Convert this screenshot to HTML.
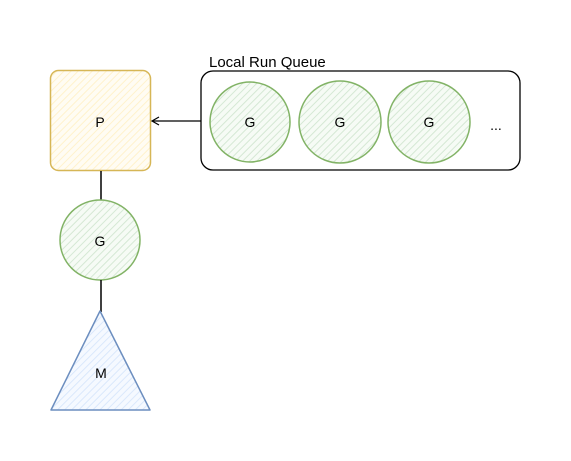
<!DOCTYPE html>
<html><head><meta charset="utf-8"><style>
html,body{margin:0;padding:0;background:#fff;}
svg{display:block;}
text{font-family:"Liberation Sans",sans-serif;font-size:14px;fill:#000;}
</style></head><body>
<svg width="571" height="461" viewBox="0 0 571 461" xmlns="http://www.w3.org/2000/svg">
<defs>
<pattern id="hy" width="5" height="5" patternUnits="userSpaceOnUse" patternTransform="rotate(45)">
<rect width="5" height="5" fill="#fffcf3"/><line x1="0" y1="0" x2="0" y2="5" stroke="#fff2cc" stroke-width="2"/></pattern>
<pattern id="hg" width="5" height="5" patternUnits="userSpaceOnUse" patternTransform="rotate(45)">
<rect width="5" height="5" fill="#f6fbf5"/><line x1="0" y1="0" x2="0" y2="5" stroke="#d5e8d4" stroke-width="2"/></pattern>
<pattern id="hb" width="5" height="5" patternUnits="userSpaceOnUse" patternTransform="rotate(45)">
<rect width="5" height="5" fill="#f5f9ff"/><line x1="0" y1="0" x2="0" y2="5" stroke="#dae8fc" stroke-width="2"/></pattern>
</defs>
<rect x="50.5" y="70.5" width="100" height="100" rx="8" fill="url(#hy)" stroke="#d6b656" stroke-width="1.5"/>
<text x="100" y="127" text-anchor="middle">P</text>
<text x="209" y="67" style="font-size:15px">Local Run Queue</text>
<rect x="201" y="71" width="319" height="99" rx="12" fill="none" stroke="#000" stroke-width="1.3"/>
<circle cx="250" cy="122" r="40" fill="url(#hg)" stroke="#82b366" stroke-width="1.5"/>
<circle cx="340" cy="122" r="41" fill="url(#hg)" stroke="#82b366" stroke-width="1.5"/>
<circle cx="429" cy="122" r="41" fill="url(#hg)" stroke="#82b366" stroke-width="1.5"/>
<text x="250" y="127" text-anchor="middle">G</text>
<text x="340" y="127" text-anchor="middle">G</text>
<text x="429" y="127" text-anchor="middle">G</text>
<text x="496" y="130" text-anchor="middle">...</text>
<line x1="201" y1="121" x2="153" y2="121" stroke="#000" stroke-width="1.2"/>
<path d="M159 117 L152 121 L159 125" fill="none" stroke="#000" stroke-width="1.2"/>
<line x1="101" y1="171" x2="101" y2="201" stroke="#000" stroke-width="1.5"/>
<circle cx="100" cy="240" r="40" fill="url(#hg)" stroke="#82b366" stroke-width="1.5"/>
<text x="100" y="246" text-anchor="middle">G</text>
<line x1="101" y1="280" x2="101" y2="312" stroke="#000" stroke-width="1.5"/>
<polygon points="100,311 150,410 51,410" fill="url(#hb)" stroke="#6c8ebf" stroke-width="1.5" stroke-linejoin="round"/>
<text x="101" y="378" text-anchor="middle">M</text>
</svg>
</body></html>
